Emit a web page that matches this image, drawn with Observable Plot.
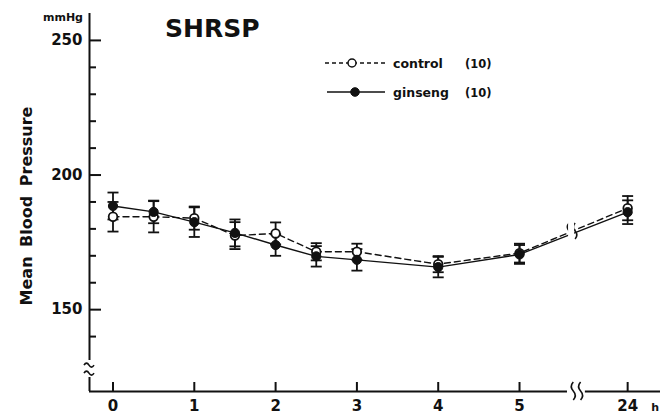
<!DOCTYPE html>
<html><head><meta charset="utf-8">
<script src="https://cdn.jsdelivr.net/npm/d3@7"></script>
<script src="https://cdn.jsdelivr.net/npm/@observablehq/plot@0.6"></script>
<style>
body{margin:0;background:#fff;}
#chart{position:relative;width:661px;height:417px;}
svg text{font-family:"DejaVu Sans",sans-serif;}
</style></head><body><div id="chart"></div>
<script>
// ---- data ----
const hours = [0, 0.5, 1, 1.5, 2, 2.5, 3, 4, 5, 24];
const control = [184.5, 184.5, 184.0, 177.5, 178.3, 171.5, 171.5, 166.9, 171.0, 187.7];
const controlSE = [5.5, 5.8, 4.3, 5.0, 4.1, 3.2, 3.0, 3.0, 3.5, 4.5];
const ginseng = [188.5, 186.3, 182.5, 178.5, 174.0, 169.8, 168.5, 165.8, 170.5, 186.2];
const ginsengSE = [5.0, 4.2, 5.5, 5.0, 4.0, 3.8, 4.0, 3.8, 3.5, 4.4];
const xTickHours = [0, 1, 2, 3, 4, 5, 24];
const yMajor = [250, 200, 150];
const yMinor = [240, 230, 220, 210, 190, 180, 170, 160, 140];
const seriesNames = ["control", "ginseng"];
const seriesN = [10, 10];
const titleText = "SHRSP";
const yTitle = "Mean Blood Pressure";
const yUnit = "mmHg";
const xUnit = "h";

// broken time axis: 0–5 h linear, 24 h placed after the break
const pos = h => (h <= 5 ? h : 6.33);
const xmin = -0.289, xmax = 6.734;
const ymin = 119.6, ymax = 260;

const rows = (vals, se, name) => hours.map((h, i) => ({series: name, h, p: pos(h), v: vals[i], se: se[i]}));
const cRows = rows(control, controlSE, "control");
const gRows = rows(ginseng, ginsengSE, "ginseng");
const all = cRows.concat(gRows);

const capSymbol = {draw(ctx, size) { const r = Math.sqrt(size / Math.PI); ctx.moveTo(-r, 0); ctx.lineTo(r, 0); }};
const W = 661, H = 417, mL = 89, mR = 1, mT = 13, mB = 26;
const innerW = W - mL - mR, innerH = H - mT - mB;
const ink = "#111";

const plot = Plot.plot({
  width: W, height: H,
  marginLeft: mL, marginRight: mR, marginTop: mT, marginBottom: mB,
  x: {domain: [xmin, xmax]},
  y: {domain: [ymin, ymax]},
  style: {fontFamily: "DejaVu Sans", fontWeight: "bold", fontSize: "15px", color: ink, background: "#fff", overflow: "visible"},
  marks: [
    // y axis (with break)
    Plot.ruleX([xmin], {y1: ymax, y2: 131.1, stroke: ink, strokeWidth: 2}),
    Plot.ruleX([xmin], {y1: 124.8, y2: ymin, stroke: ink, strokeWidth: 2}),
    Plot.tickY(yMajor, {y: d => d, insetRight: innerW - 12, stroke: ink, strokeWidth: 2}),
    Plot.tickY(yMinor, {y: d => d, insetRight: innerW - 7, stroke: ink, strokeWidth: 2}),
    Plot.axisY({ticks: yMajor, tickSize: 0, tickPadding: 7, fontSize: 15, fontWeight: "bold", label: null}),
    // x axis (with break)
    Plot.ruleY([ymin], {x1: xmin, x2: 5.59, stroke: ink, strokeWidth: 2}),
    Plot.ruleY([ymin], {x1: 5.81, x2: xmax, stroke: ink, strokeWidth: 2}),
    Plot.tickX(xTickHours.map(pos), {x: d => d, insetTop: innerH - 9, stroke: ink, strokeWidth: 2}),
    Plot.axisX({ticks: xTickHours.map(pos), tickFormat: p => (p > 6 ? "24" : String(p)), tickSize: 0, tickPadding: 9, fontSize: 15, fontWeight: "bold", label: null}),
    // error bars
    Plot.ruleX(all, {x: "p", y1: d => d.v - d.se, y2: d => d.v + d.se, stroke: ink, strokeWidth: 1.8}),
    Plot.dot(all, {x: "p", y: d => d.v + d.se, symbol: capSymbol, r: 5.5, stroke: ink, strokeWidth: 1.8, fill: "none"}),
    Plot.dot(all, {x: "p", y: d => d.v - d.se, symbol: capSymbol, r: 5.5, stroke: ink, strokeWidth: 1.8, fill: "none"}),
    // lines
    Plot.line(cRows, {x: "p", y: "v", stroke: ink, strokeWidth: 1.4, strokeDasharray: "6,4"}),
    Plot.line(gRows, {x: "p", y: "v", stroke: ink, strokeWidth: 1.4}),
    // points
    Plot.dot(cRows, {x: "p", y: "v", r: 4.3, fill: "#fff", stroke: ink, strokeWidth: 1.8}),
    Plot.dot(gRows, {x: "p", y: "v", r: 4.6, fill: ink, stroke: ink, strokeWidth: 1})
  ]
});
document.getElementById("chart").appendChild(plot);

const sx = plot.scale("x").apply, sy = plot.scale("y").apply;
const svg = d3.select(plot);

// title
svg.append("text").attr("x", 165).attr("y", 37).attr("text-anchor", "start").attr("font-size", 25).attr("font-weight", "bold").attr("fill", ink).text(titleText);
// unit label
svg.append("text").attr("x", 83).attr("y", 21).attr("text-anchor", "end").attr("font-size", 11).attr("font-weight", "bold").attr("fill", ink).text(yUnit);
// y title
svg.append("text").attr("transform", "translate(32,206) rotate(-90)").attr("text-anchor", "middle")
  .attr("font-size", 16).attr("font-weight", "bold").attr("word-spacing", 4).attr("fill", ink).text(yTitle);
// x unit
svg.append("text").attr("x", sx(pos(24)) + 24).attr("y", 411).attr("text-anchor", "start").attr("font-size", 11).attr("font-weight", "bold").attr("fill", ink).text(xUnit);

// axis break marks
const brk = svg.append("g").attr("fill", "none").attr("stroke", ink).attr("stroke-width", 1.6);
const ax = sx(xmin);
[sy(129.6), sy(126.6)].forEach(y => {
  brk.append("path").attr("d", `M${ax - 5},${y + 1} q2.5,-4 5,0 t5,0`);
});
const ay = sy(ymin);
[sx(5.655), sx(5.745)].forEach(x => {
  brk.append("path").attr("d", `M${x + 1},${ay - 9} q-4,4.5 0,9 t0,9`);
});
// break on the data line between 5 h and 24 h
const bx = (sx(pos(5)) + sx(pos(24))) / 2 - 2;
const t = (bx - sx(pos(5))) / (sx(pos(24)) - sx(pos(5)));
const by = sy(control[8]) + t * (sy(control[9]) - sy(control[8]));
svg.append("rect").attr("x", bx - 3).attr("y", by - 9).attr("width", 6).attr("height", 18).attr("fill", "#fff");
[bx - 3, bx + 3].forEach(x => {
  brk.append("path").attr("d", `M${x + 1},${by - 8} q-3.5,4 0,8 t0,8`);
});

// legend
const lg = svg.append("g").attr("text-anchor", "start");
const legendRows = [
  {name: seriesNames[0], n: seriesN[0], y: 63, x1: 325, x2: 385, cx: 352, dash: "4,3", open: true},
  {name: seriesNames[1], n: seriesN[1], y: 92, x1: 327, x2: 385, cx: 355, dash: null, open: false}
];
legendRows.forEach(r => {
  lg.append("line").attr("x1", r.x1).attr("x2", r.x2).attr("y1", r.y).attr("y2", r.y)
    .attr("stroke", ink).attr("stroke-width", 1.4).attr("stroke-dasharray", r.dash);
  lg.append("circle").attr("cx", r.cx).attr("cy", r.y).attr("r", r.open ? 4 : 4.3)
    .attr("fill", r.open ? "#fff" : ink).attr("stroke", ink).attr("stroke-width", r.open ? 1.5 : 1);
  lg.append("text").attr("x", 393).attr("y", r.y + 4.5).attr("font-size", 12.5).attr("font-weight", "bold").attr("fill", ink).text(r.name);
  lg.append("text").attr("x", 465).attr("y", r.y + 4.5).attr("font-size", 11.5).attr("font-weight", "bold").attr("fill", ink).text(`(${r.n})`);
});
</script></body></html>
